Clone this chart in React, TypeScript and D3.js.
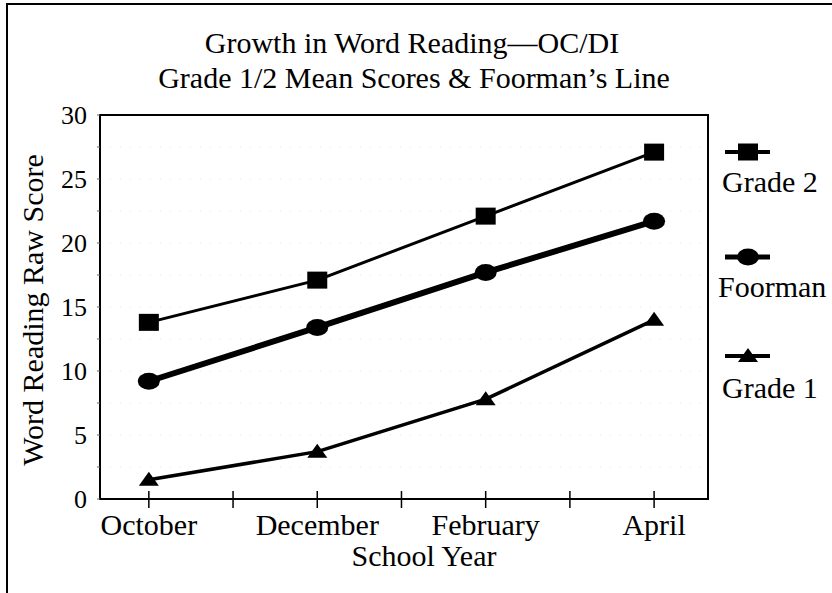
import React from 'react';
import * as d3 from 'd3';

// values
const months = ['October', 'December', 'February', 'April'];
const monthPos = [0, 2, 4, 6];
const grade2 = [13.8, 17.1, 22.1, 27.1];
const foorman = [9.2, 13.4, 17.7, 21.7];
const grade1 = [1.5, 3.7, 7.8, 14.0];
const yTicks = [0, 5, 10, 15, 20, 25, 30];
const seriesNames = ['Grade 2', 'Foorman', 'Grade 1'];

const FONT = "'Liberation Serif'";

const margin = { top: 115, right: 124, bottom: 94, left: 100 };
const W = 832;
const H = 593;
const width = W - margin.left - margin.right;
const height = H - margin.top - margin.bottom;

const x = d3.scaleLinear().domain([-0.58, 6.64]).range([0, width]);
const y = d3.scaleLinear().domain([0, 30]).range([height, 0]);

const line = d3.line<number>()
  .x((d, i) => x(monthPos[i]))
  .y(d => y(d));

const series = [
  { key: seriesNames[0], values: grade2, sw: 3, marker: 'square' },
  { key: seriesNames[1], values: foorman, sw: 6, marker: 'circle' },
  { key: seriesNames[2], values: grade1, sw: 3.5, marker: 'triangle' },
];

const Marker = ({ type, cx, cy }: { type: string; cx: number; cy: number }) => {
  if (type === 'square') {
    return <rect x={cx - 10} y={cy - 8.5} width={20} height={17} fill="#000" />;
  }
  if (type === 'circle') {
    return <ellipse cx={cx} cy={cy} rx={11} ry={8.5} fill="#000" />;
  }
  return <path d={`M${cx},${cy - 8} L${cx + 10},${cy + 6} L${cx - 10},${cy + 6} Z`} fill="#000" />;
};

const App = () => {
  const textStyle = { fontFamily: FONT };
  const legendY = [152, 257, 356];
  const legendText = [192, 297, 398];
  const legendTextX = [722, 718, 722];

  return (
    <svg width={W} height={H} style={{ position: 'absolute', left: 0, top: 0, background: '#fff' }}>
      {/* outer frame, only top and left edges show in the scan */}
      <path d="M7,593 L7,4 L832,4" fill="none" stroke="#000" strokeWidth={2} />

      <text x={412} y={53} textAnchor="middle" fontSize={30} style={textStyle}>
        Growth in Word Reading{'\u2014'}OC/DI
      </text>
      <text x={414} y={88} textAnchor="middle" fontSize={30} style={textStyle}>
        Grade 1/2 Mean Scores &amp; Foorman{'\u2019'}s Line
      </text>

      <text transform="translate(43,310) rotate(-90)" textAnchor="middle" fontSize={30} style={textStyle}>
        Word Reading Raw Score
      </text>

      <g transform={`translate(${margin.left},${margin.top})`}>
        {/* faint dotted guides seen in the scan */}
        {d3.range(2.5, 30, 2.5).map(v => (
          <line key={'g' + v} x1={0} x2={width} y1={y(v)} y2={y(v)}
            stroke="#e4e4e4" strokeWidth={1} strokeDasharray="1,9" />
        ))}

        <rect width={width} height={height} fill="none" stroke="#000" strokeWidth={2} />

        {/* y axis minor marks and labels */}
        {d3.range(0, 30.1, 2.5).map(v => (
          <line key={'yt' + v} x1={-3} x2={0} y1={y(v)} y2={y(v)} stroke="#666" />
        ))}
        {yTicks.map(v => (
          <text key={'yl' + v} x={-13} y={y(v) + 9} textAnchor="end" fontSize={26} style={textStyle}>
            {v}
          </text>
        ))}

        {/* x axis: crossing ticks every month */}
        {d3.range(0, 7).map(v => (
          <line key={'xt' + v} x1={x(v)} x2={x(v)} y1={height - 8} y2={height + 9}
            stroke="#000" strokeWidth={1.5} />
        ))}
        {months.map((m, i) => (
          <text key={m} x={x(monthPos[i])} y={height + 36} textAnchor="middle" fontSize={30} style={textStyle}>
            {m}
          </text>
        ))}
        <text x={width / 2 + 20} y={height + 67} textAnchor="middle" fontSize={30} style={textStyle}>
          School Year
        </text>

        {series.map(s => (
          <g key={s.key}>
            <path d={line(s.values) || ''} fill="none" stroke="#000" strokeWidth={s.sw} strokeLinejoin="round" />
            {s.values.map((v, i) => (
              <Marker key={i} type={s.marker} cx={x(monthPos[i])} cy={y(v)} />
            ))}
          </g>
        ))}
      </g>

      {/* legend */}
      {series.map((s, i) => (
        <g key={'lg' + s.key}>
          <line x1={725} x2={770} y1={legendY[i]} y2={legendY[i]} stroke="#000" strokeWidth={s.sw === 6 ? 5 : 4} />
          <Marker type={s.marker} cx={748} cy={legendY[i]} />
          <text x={legendTextX[i]} y={legendText[i]} fontSize={30} style={textStyle}>
            {s.key}
          </text>
        </g>
      ))}
    </svg>
  );
};

export default App;
